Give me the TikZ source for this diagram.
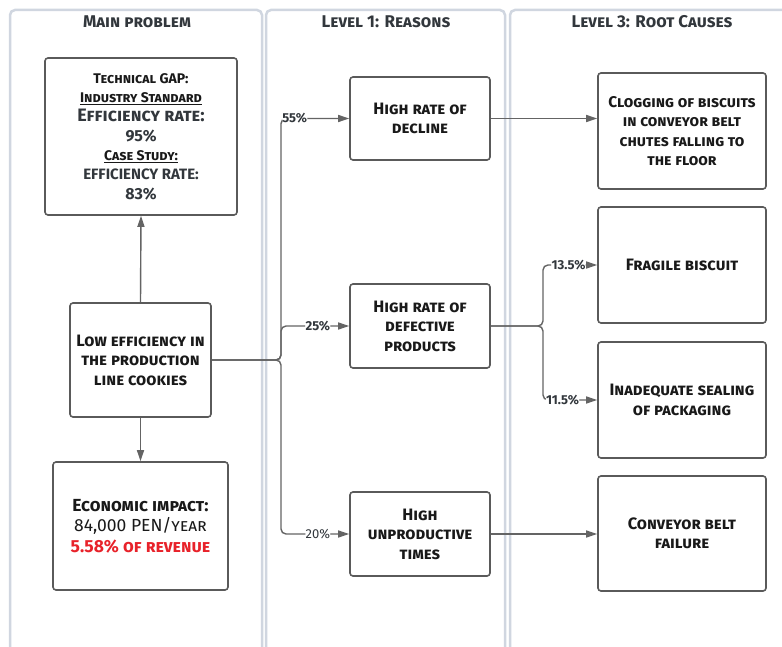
\documentclass[tikz,border=0pt]{standalone}
\usepackage{fontspec}
\setmainfont{Fira Sans}
\usetikzlibrary{arrows.meta}
\definecolor{lanec}{RGB}{208,214,224}
\definecolor{boxc}{RGB}{90,90,90}
\definecolor{linec}{RGB}{100,100,100}
\definecolor{txt}{RGB}{25,25,25}
\definecolor{gtxt}{RGB}{50,55,60}
\definecolor{redc}{RGB}{232,34,42}
\tikzset{
  lane/.style={draw=lanec, line width=2.5pt, rounded corners=5pt, fill=white},
  ttl/.style={font=\fontsize{17}{19}\selectfont\bfseries\scshape, text=gtxt},
  box/.style={draw=boxc, line width=1.6pt, rounded corners=3pt, fill=white, align=center,
    text=txt, font=\fontsize{16.5}{19.5}\selectfont\bfseries\scshape, inner sep=1pt},
  conn/.style={draw=linec, line width=1.4pt, -{Triangle[length=11pt,width=7pt]}},
  pct/.style={font=\fontsize{13}{14}\selectfont\bfseries, text=gtxt, fill=white, inner sep=0.3pt}
}
\begin{document}
\begin{tikzpicture}[x=1pt,y=-1pt]
\useasboundingbox (0,0) rectangle (782,647);
% lanes
\draw[lane] (10,10) rectangle (262,670);
\draw[lane] (266,10) rectangle (505,670);
\draw[lane] (510,10) rectangle (795,670);
\node[ttl] (t1) at (137,22) {Main problem};
\node[ttl] (t2) at (386,22) {Level 1: Reasons};
\node[ttl] (t3) at (652,22) {Level 3: Root Causes};
% main column
\node[box, minimum width=192pt, minimum height=157pt, font=\fontsize{14}{19.3}\selectfont\bfseries\scshape] (gap) at (141,136.5) {%
  Technical GAP:\\
  \underline{Industry Standard}\\
  {\fontsize{18}{19.3}\selectfont\color{gtxt}Efficiency rate:}\\
  {\fontsize{16}{19.3}\selectfont\color{gtxt}95\%}\\
  \underline{Case Study:}\\
  {\fontsize{15}{19.3}\selectfont\color{gtxt}EFFICIENCY RATE:}\\
  {\fontsize{16}{19.3}\selectfont\color{gtxt}83\%}};
\node[box, minimum width=141pt, minimum height=114pt] (low) at (140.5,360) {Low efficiency in\\the production\\line cookies};
\node[box, minimum width=175pt, minimum height=128pt, font=\fontsize{17.5}{20.5}\selectfont\bfseries\scshape] (econ) at (140.5,526) {%
  Economic impact:\\
  {\mdseries 84,000 PEN/year}\\
  \textcolor{redc}{5.58\% of revenue}};
% level 1
\node[box, minimum width=140pt, minimum height=83pt] (decl) at (420,118.5) {High rate of\\decline};
\node[box, minimum width=140pt, minimum height=84pt] (defe) at (420,326) {High rate of\\defective\\products};
\node[box, minimum width=140pt, minimum height=84pt] (unpr) at (420,534) {High\\unproductive\\times};
% level 3
\node[box, minimum width=168pt, minimum height=116pt, font=\fontsize{15.5}{19.5}\selectfont\bfseries\scshape] (clog) at (682,131) {Clogging of biscuits\\in conveyor belt\\chutes falling to\\the floor};
\node[box, minimum width=168pt, minimum height=116pt] (frag) at (682,265) {Fragile biscuit};
\node[box, minimum width=168pt, minimum height=116pt] (inad) at (682,400) {Inadequate sealing\\of packaging};
\node[box, minimum width=168pt, minimum height=115pt] (conv) at (682,533.5) {Conveyor belt\\failure};
% connectors
\draw[conn] (low.north) -- (gap.south);
\draw[conn] (low.south) -- (econ.north);
\coordinate (j1) at (281,360);
\coordinate (j2) at (543,326);
\draw[conn, rounded corners=5pt] (low.east) -| (j1 |- decl.west) -- node[pct, pos=0.2] {55\%} (decl.west);
\draw[conn, rounded corners=5pt] (low.east) -| (j1 |- defe.west) -- node[pct, pos=0.54] {25\%} (defe.west);
\draw[conn, rounded corners=5pt] (low.east) -| (j1 |- unpr.west) -- node[pct, pos=0.54, font=\fontsize{13}{14}\selectfont] {20\%} (unpr.west);
\draw[conn] (decl.east) -- (decl.east -| clog.west);
\draw[conn, rounded corners=5pt] (defe.east) -| (j2 |- frag.west) -- node[pct, pos=0.47] {13.5\%} (frag.west);
\draw[conn, rounded corners=5pt] (defe.east) -| (j2 |- inad.west) -- node[pct, pos=0.36] {11.5\%} (inad.west);
\draw[conn] (unpr.east) -- (unpr.east -| conv.west);
\end{tikzpicture}
\end{document}
